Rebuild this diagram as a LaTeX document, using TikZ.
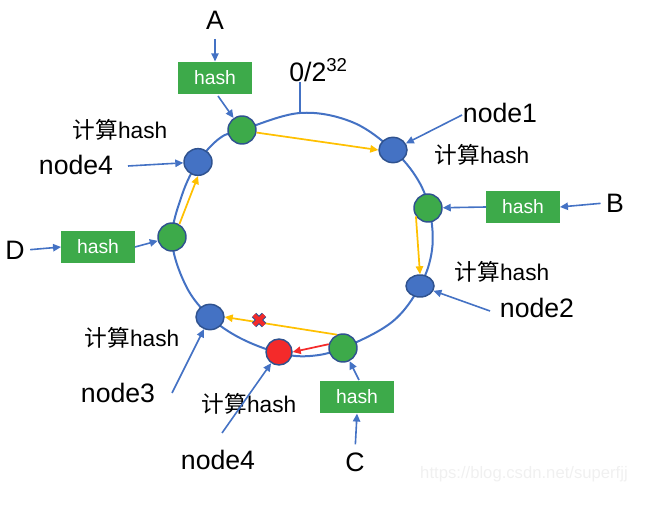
\documentclass[tikz,border=0pt]{standalone}
\usepackage{fontspec}
\setmainfont{Liberation Sans}
\newfontfamily\cjk{Noto Sans CJK SC}
\usetikzlibrary{arrows.meta,shapes.geometric,calc}
\definecolor{ringblue}{HTML}{4472C4}
\definecolor{darkblue}{HTML}{2F528F}
\definecolor{hgreen}{HTML}{3DAA4A}
\definecolor{gold}{HTML}{FFC000}
\definecolor{hred}{HTML}{F42A2A}
\definecolor{wm}{HTML}{F0F0F0}
\tikzset{
  big/.style={font=\fontsize{20}{24}\selectfont, inner sep=1pt},
  calclabel/.style={font=\fontsize{17}{20}\selectfont, inner sep=1pt},
  hashbox/.style={fill=hgreen, text=white, font=\fontsize{14.5}{17}\selectfont,
    minimum width=55pt, minimum height=24.5pt, inner sep=0pt},
  greennode/.style={circle, fill=hgreen, draw=darkblue, line width=1.1pt, minimum size=21pt, inner sep=0pt},
  bluenode/.style={ellipse, fill=ringblue, draw=darkblue, line width=1.1pt, minimum width=21pt, minimum height=19pt, inner sep=0pt},
  rednode/.style={circle, fill=hred, draw=darkblue, line width=1.1pt, minimum size=19.5pt, inner sep=0pt},
  arr/.style={ringblue, line width=1.2pt, -{Triangle[length=6pt,width=5.5pt]}},
  yarr/.style={gold, line width=1.3pt, -{Triangle[length=6pt,width=5.5pt]}},
  rarr/.style={hred, line width=1.3pt, -{Triangle[length=6pt,width=5.5pt]}},
}
\begin{document}
\begin{tikzpicture}[x=0.75pt,y=-0.75pt]
\useasboundingbox (0,0) rectangle (659,505);
% ring
\draw[ringblue, line width=1.5pt] plot[smooth cycle, tension=0.6] coordinates {
  (242,130) (300,113) (352,122) (393,150) (418,180) (430,212) (432,250) (420,286)
  (392,322) (343,348) (310,356) (279,353) (240,338) (210,317) (186,286) (172,240)
  (182,195) (198,162) (220,138)};
\coordinate (top) at (300,113);
\coordinate (tick) at (300,82);
\draw[ringblue, line width=1.5pt] (top) -- (tick);
\node[big, anchor=base west, inner sep=0pt] (zero) at (289,82) {0/2\textsuperscript{32}};
% ring nodes
\node[greennode] (gA) at (242,130) {};
\node[bluenode] (n1) at (393,150) {};
\node[greennode] (gB) at (428,208) {};
\node[bluenode, minimum height=16.5pt] (n2) at (420,286) {};
\node[greennode] (gC) at (343,348) {};
\node[rednode] (R) at (279,352) {};
\node[bluenode] (n3) at (210,317) {};
\node[greennode] (gD) at (172,237) {};
\node[bluenode, minimum height=20pt] (n4) at (198,162) {};
% hash boxes
\node[hashbox] (hA) at (215,78) {hash};
\node[hashbox] (hB) at (523,207) {hash};
\node[hashbox] (hD) at (98,247) {hash};
\node[hashbox] (hC) at (357,397) {hash};
% letters
\node[big] (A) at (215,20) {A};
\node[big] (B) at (615,203) {B};
\node[big] (C) at (355,462) {C};
\node[big] (D) at (15,250) {D};
% labels
\node[big] (l1) at (500,113) {node1};
\node[big] (l2) at (537,308) {node2};
\node[big] (l3) at (118,393) {node3};
\node[big] (l4) at (76,165) {node4};
\node[big] (l4b) at (218,460) {node4};
\node[calclabel] (c1) at (482,155) {{\cjk 计算}hash};
\node[calclabel] (c2) at (502,272) {{\cjk 计算}hash};
\node[calclabel] (c3) at (132,338) {{\cjk 计算}hash};
\node[calclabel] (c4) at (120,130) {{\cjk 计算}hash};
\node[calclabel] (c4b) at (249,404) {{\cjk 计算}hash};
% input arrows
\draw[arr, shorten <=6pt] (A.south) -- (hA.north);
\coordinate (hAs) at (218,96);
\draw[arr] (hAs) -- (gA);
\draw[arr, shorten <=3pt] (B.west) -- (hB.east);
\draw[arr] (hB.west) -- (gB);
\draw[arr, shorten <=3pt] (D.east) -- (hD.west);
\draw[arr] (hD.east) -- (gD);
\draw[arr, shorten <=5pt] (C.north) -- (hC.south);
\coordinate (hCn) at (359,380);
\draw[arr] (hCn) -- (gC);
% label arrows
\coordinate (e1) at (462,115);
\draw[arr] (e1) -- (n1);
\coordinate (e2) at (490,311);
\draw[arr] (e2) -- (n2);
\coordinate (e3) at (172,393);
\draw[arr] (e3) -- (n3);
\coordinate (e4) at (128,166);
\draw[arr] (e4) -- (n4);
\coordinate (e4b) at (222,433);
\draw[arr] (e4b) -- (R);
% yellow moves
\draw[yarr] (gA.-10) -- (n1.west);
\draw[yarr] (gB.215) -- (n2.north);
\draw[yarr] (gD.60) -- (n4.south);
\draw[yarr] (gC.115) -- (n3.east);
\draw[rarr] (gC.165) -- (R.east);
% cross
\coordinate (X) at (259,320);
\draw[darkblue, line width=4.6pt] ($(X)+(-5,-5)$) -- ($(X)+(5,5)$) ($(X)+(-5,5)$) -- ($(X)+(5,-5)$);
\draw[hred, line width=3pt] ($(X)+(-5,-5)$) -- ($(X)+(5,5)$) ($(X)+(-5,5)$) -- ($(X)+(5,-5)$);
% watermark
\node[font=\fontsize{12.5}{15}\selectfont, text=wm] (wmk) at (524,474) {https://blog.csdn.net/superfjj};
\end{tikzpicture}
\end{document}
